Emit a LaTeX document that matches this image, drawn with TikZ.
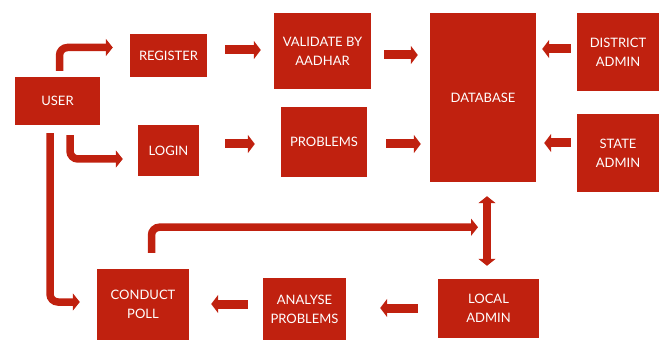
\documentclass[tikz,border=0pt]{standalone}
\usepackage{fontspec}
\setmainfont{Lato}
\usetikzlibrary{positioning, calc}
\usetikzlibrary{arrows.meta}

\definecolor{boxred}{RGB}{192,33,15}

\begin{document}
\begin{tikzpicture}[x=1pt,y=-1pt,
  box/.style={fill=boxred, text=white, align=center, inner sep=0pt,
    font=\fontsize{13}{19}\selectfont},
  blk/.style={draw=boxred, line width=9pt, -{Triangle[length=7pt,width=18pt]}},
  bent/.style={draw=boxred, line width=7.5pt, rounded corners=8pt,
    -{Triangle[length=7pt,width=17pt]}}]

  \useasboundingbox (0,0) rectangle (664,342);

  % boxes, left part
  \node[box, minimum width=85pt, minimum height=48pt] (user) at (57.5,101) {USER};
  \node[box, minimum width=77pt, minimum height=43pt] (register) at (168.5,55.5) {REGISTER};
  \node[box, minimum width=61pt, minimum height=51pt] (login) at (168.5,150.5) {LOGIN};
  \node[box, minimum width=97pt, minimum height=76pt] (validate) at (322.5,51) {VALIDATE BY\\AADHAR};
  \node[box, minimum width=86pt, minimum height=70pt] (problems) at (324,142) {PROBLEMS};

  % boxes, right part
  \node[box, minimum width=106pt, minimum height=169pt] (database) at (483,97.5) {DATABASE};
  \node[box, minimum width=82pt, minimum height=78pt] (district) at (618,52) {DISTRICT\\ADMIN};
  \node[box, minimum width=82pt, minimum height=78pt] (state) at (618,153) {STATE\\ADMIN};

  % boxes, bottom row
  \node[box, minimum width=92pt, minimum height=71pt] (poll) at (143,304.5) {CONDUCT\\POLL};
  \node[box, minimum width=83pt, minimum height=62pt] (analyse) at (304.5,309) {ANALYSE\\PROBLEMS};
  \node[box, minimum width=101pt, minimum height=59pt] (local) at (488.5,308.5) {LOCAL\\ADMIN};

  % straight arrows
  \draw[blk] ($(register.east)+(18,-5.5)$) -- ($(validate.west)+(-13,-1)$);
  \draw[blk] ($(login.east)+(26,-6.5)$) -- ($(problems.west)+(-26,2)$);
  \draw[blk] ($(validate.east)+(13,4)$) -- ($(database.west)+(-12,-42.5)$);
  \draw[blk] ($(problems.east)+(19,2)$) -- ($(database.west)+(-9,46.5)$);
  \draw[blk] ($(district.west)+(-6,-3)$) -- ($(database.east)+(6,-48.5)$);
  \draw[blk] ($(state.west)+(-6,-10)$) -- ($(database.east)+(8,45.5)$);
  \draw[blk] ($(local.west)+(-20,-0.5)$) -- ($(analyse.east)+(34,-1)$);
  \draw[blk] ($(analyse.west)+(-15,-5)$) -- ($(poll.east)+(22,-0.5)$);

  % bent arrows
  \draw[bent] ($(user.north)+(2,-6)$) |- ($(register.west)+(-17,-8)$);
  \draw[bent] ($(user.south)+(12.5,10)$) |- ($(login.west)+(-15,8.5)$);
  \draw[bent] ($(user.south)+(-7.5,8)$) |- ($(poll.west)+(-17,-2.5)$);
  \draw[bent] ($(poll.north)+(8.5,-16)$) |- ($(database.south)+(-5,45)$);

  % database <-> local admin
  \draw[draw=boxred, line width=7.5pt, {Triangle[length=7pt,width=17pt]}-{Triangle[length=7pt,width=17pt]}]
    ($(database.south)+(4,14)$) -- ($(local.north)+(-1.5,-13)$);

\end{tikzpicture}
\end{document}
